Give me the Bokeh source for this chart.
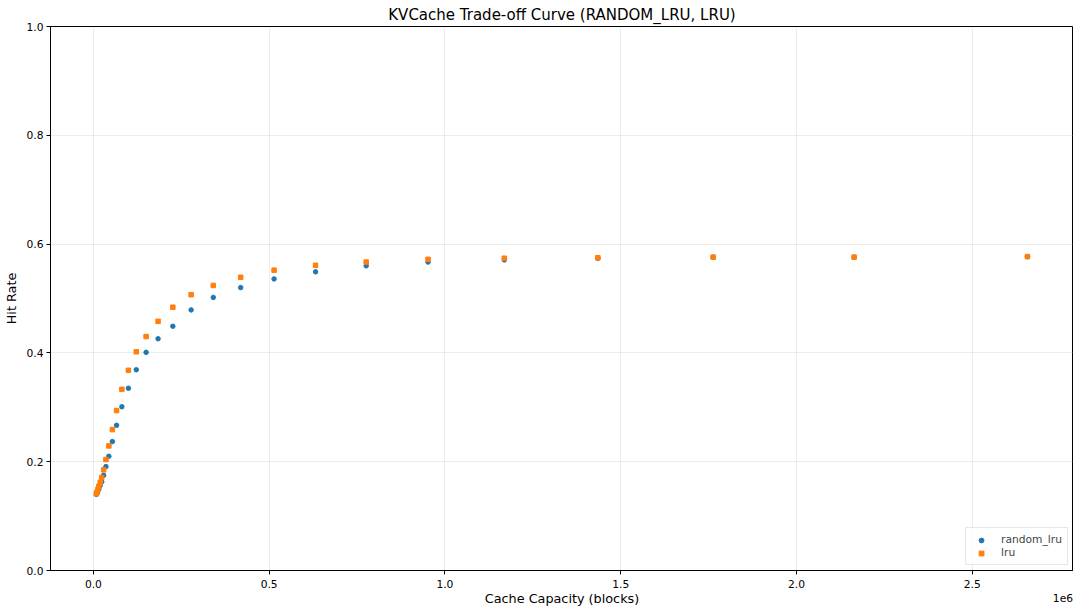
from bokeh.plotting import figure
from bokeh.models import (Range1d, FixedTicker, CustomJSTickFormatter, Legend,
                          LegendItem, LinearAxis, ColumnDataSource)
from bokeh.embed import file_html
from bokeh.resources import INLINE

# ---- data ----
capacity = [8500, 10400, 12800, 15700, 19300, 23700, 29100, 35700, 44000, 54000,
            66000, 81000, 99600, 122000, 150000, 184000, 226000, 278000, 341000,
            419000, 514000, 632000, 776000, 952000, 1169000, 1435000, 1763000,
            2164000, 2657000]
random_lru = [0.140, 0.142, 0.146, 0.150, 0.156, 0.163, 0.175, 0.191, 0.210, 0.237,
              0.267, 0.301, 0.335, 0.369, 0.401, 0.426, 0.449, 0.479, 0.502,
              0.520, 0.536, 0.549, 0.560, 0.567, 0.571, 0.574, 0.576,
              0.576, 0.577]
lru = [0.141, 0.144, 0.149, 0.155, 0.162, 0.171, 0.185, 0.204, 0.229, 0.259,
       0.294, 0.333, 0.368, 0.402, 0.430, 0.458, 0.484, 0.507, 0.524,
       0.539, 0.552, 0.561, 0.567, 0.572, 0.574, 0.575, 0.576,
       0.576, 0.577]
x_ticks = [0, 500000, 1000000, 1500000, 2000000, 2500000]
y_ticks = [0.0, 0.2, 0.4, 0.6, 0.8, 1.0]
title_text = "KVCache Trade-off Curve (RANDOM_LRU, LRU)"
offset_text = "1e6"

FONT = "DejaVu Sans"
FW, FH = 1023, 544
OFFSET_POS = 2758000   # where the "1e6" offset text sits along the x axis

src = ColumnDataSource(dict(x=capacity, r=random_lru, l=lru))

p = figure(frame_width=FW, frame_height=FH, output_backend="svg", toolbar_location=None,
           x_range=Range1d(-122000, 2788000), y_range=Range1d(0, 1),
           title=title_text,
           min_border_left=41, min_border_right=0, min_border_top=0, min_border_bottom=35,
           background_fill_color="white", border_fill_color="white")

p.title.align = "center"
p.title.text_font = FONT
p.title.text_font_size = "15px"
p.title.text_font_style = "normal"
p.title.text_color = "black"
p.title.standoff = 6

p.outline_line_color = "black"
p.outline_line_width = 1

r1 = p.scatter("x", "r", source=src, marker="circle", size=4.5,
               fill_color="#1f77b4", line_color="#1f77b4")
r2 = p.scatter("x", "l", source=src, marker="square", size=4.5,
               fill_color="#ff7f0e", line_color="#ff7f0e")

p.xaxis.ticker = FixedTicker(ticks=x_ticks)
p.xaxis.formatter = CustomJSTickFormatter(code="return (tick/1e6).toFixed(1);")
p.yaxis.ticker = FixedTicker(ticks=y_ticks)
p.yaxis.formatter = CustomJSTickFormatter(code="return tick.toFixed(1);")

for ax in (p.xaxis, p.yaxis):
    ax.axis_line_color = "black"
    ax.major_tick_line_color = "black"
    ax.major_tick_out = 4
    ax.major_tick_in = 0
    ax.minor_tick_line_color = None
    ax.major_label_text_font = FONT
    ax.major_label_text_font_size = "10.7px"
    ax.major_label_text_color = "black"
    ax.axis_label_text_font = FONT
    ax.axis_label_text_font_size = "12.8px"
    ax.axis_label_text_font_style = "normal"
    ax.axis_label_text_color = "black"

p.xaxis.major_label_standoff = 5
p.xaxis.axis_label_standoff = 0
p.yaxis.major_label_standoff = 3
p.yaxis.axis_label_standoff = 5

p.xaxis.axis_label = "Cache Capacity (blocks)"
p.yaxis.axis_label = "Hit Rate"

# offset text "1e6" drawn by a tick-less secondary axis pulled up into the label row
ax2 = LinearAxis(ticker=FixedTicker(ticks=[OFFSET_POS]),
                 formatter=CustomJSTickFormatter(code="return '%s';" % offset_text),
                 axis_line_color=None, major_tick_line_color=None,
                 minor_tick_line_color=None, major_tick_out=0, major_tick_in=0,
                 major_label_standoff=-15,
                 major_label_text_font=FONT, major_label_text_font_size="10.7px",
                 major_label_text_color="black")
p.add_layout(ax2, "below")

p.xgrid.ticker = FixedTicker(ticks=x_ticks)
p.ygrid.ticker = FixedTicker(ticks=y_ticks)
p.grid.grid_line_color = "#b0b0b0"
p.grid.grid_line_alpha = 0.3
p.grid.grid_line_width = 0.8

legend = Legend(items=[LegendItem(label="random_lru", renderers=[r1]),
                       LegendItem(label="lru", renderers=[r2])],
                location="bottom_right")
legend.margin = 5
legend.padding = 5
legend.spacing = 0
legend.glyph_width = 20
legend.glyph_height = 12
legend.label_height = 12
legend.label_standoff = 10
legend.label_text_font = FONT
legend.label_text_font_size = "10.7px"
legend.border_line_color = "#d0d0d0"
legend.border_line_width = 1
legend.background_fill_alpha = 0.8
p.add_layout(legend)

open("out.html", "w").write(file_html(p, INLINE))
